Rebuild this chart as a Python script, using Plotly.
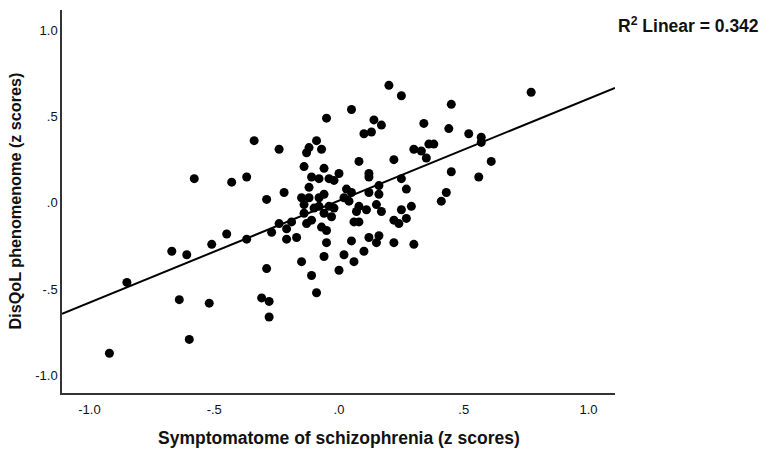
import plotly.graph_objects as go

# Scatter data (z scores)
symptomatome = [-0.92, -0.85, -0.67, -0.64, -0.61, -0.60, -0.58, -0.52, -0.51, -0.45,
                -0.43, -0.37, -0.37, -0.34, -0.31, -0.29, -0.29, -0.28, -0.28, -0.27,
                -0.24, -0.24, -0.22, -0.21, -0.21, -0.19, -0.17, -0.15, -0.15, -0.12,
                -0.14, -0.14, -0.14, -0.13, -0.12, -0.12, -0.11, -0.11, -0.10, -0.11,
                -0.13, -0.09, -0.09, -0.08, -0.08, -0.08, -0.07, -0.06, -0.07, -0.06,
                -0.06, -0.05, -0.05, -0.05, -0.04, -0.04, -0.06, -0.03, -0.02, 0.00,
                -0.02, 0.00, 0.02, 0.03, 0.05, 0.04, 0.05, 0.02, 0.06, 0.05,
                0.06, 0.08, 0.07, 0.08, 0.08, 0.10, 0.10, 0.11, 0.12, 0.12,
                0.12, 0.12, 0.13, 0.14, 0.15, 0.16, 0.15, 0.16, 0.16, 0.17,
                0.17, 0.20, 0.22, 0.22, 0.22, 0.24, 0.25, 0.25, 0.25, 0.27,
                0.27, 0.29, 0.30, 0.30, 0.33, 0.34, 0.35, 0.36, 0.38, 0.41,
                0.43, 0.44, 0.45, 0.45, 0.52, 0.56, 0.57, 0.57, 0.61, 0.77]
phenomenome = [-0.87, -0.46, -0.28, -0.56, -0.30, -0.79, 0.14, -0.58, -0.24, -0.18,
               0.12, 0.15, -0.21, 0.36, -0.55, 0.02, -0.38, -0.57, -0.66, -0.17,
               0.31, -0.12, 0.06, -0.15, -0.21, -0.11, -0.20, -0.34, 0.03, 0.03,
               -0.01, -0.06, 0.21, 0.29, 0.32, 0.09, -0.42, 0.15, -0.03, -0.10,
               -0.12, 0.36, -0.52, 0.03, 0.14, -0.02, 0.31, 0.05, -0.14, 0.20,
               -0.31, 0.49, -0.23, -0.16, 0.14, -0.02, -0.06, -0.08, 0.13, 0.17,
               -0.03, -0.39, 0.03, 0.08, 0.06, 0.01, 0.54, -0.30, -0.34, -0.22,
               -0.11, -0.11, -0.05, -0.02, 0.24, -0.28, 0.40, -0.04, 0.17, 0.15,
               0.06, -0.20, 0.41, 0.48, -0.23, 0.10, -0.01, 0.05, -0.19, 0.45,
               -0.05, 0.68, -0.10, 0.25, -0.23, -0.12, 0.14, -0.04, 0.62, 0.08,
               -0.09, -0.02, 0.31, -0.24, 0.30, 0.46, 0.26, 0.34, 0.34, 0.01,
               0.06, 0.43, 0.57, 0.18, 0.40, 0.15, 0.38, 0.35, 0.24, 0.64]

# Linear fit (as shown in reference)
fit_slope = 0.590
fit_intercept = 0.013
r_squared = 0.342

tick_vals = [-1.0, -0.5, 0.0, 0.5, 1.0]
tick_text = ["-1.0", "-.5", ".0", ".5", "1.0"]

x_title = "Symptomatome of schizophrenia (z scores)"
y_title = "DisQoL phenomenome (z scores)"

x_range = [-1.11, 1.106]
y_range = [-1.10, 1.116]

font_family = "Liberation Sans, Arial, sans-serif"
text_color = "#111111"

fig = go.Figure()
fig.add_trace(go.Scatter(
    x=symptomatome, y=phenomenome, mode="markers",
    marker=dict(color="black", size=9, line=dict(width=0)),
    showlegend=False, hoverinfo="skip"))
fig.add_trace(go.Scatter(
    x=x_range, y=[fit_intercept + fit_slope * v for v in x_range],
    mode="lines", line=dict(color="black", width=2),
    showlegend=False, hoverinfo="skip"))

axis_common = dict(
    showgrid=False, zeroline=False, showline=True, linecolor="#333333",
    linewidth=1.5, ticks="", tickvals=tick_vals, ticktext=tick_text,
    automargin=False,
    tickfont=dict(family=font_family, size=13, color=text_color),
)

fig.update_layout(
    width=763, height=454,
    margin=dict(l=62, r=148, t=10, b=61),
    plot_bgcolor="white", paper_bgcolor="white",
    xaxis=dict(range=x_range, ticklabelstandoff=4, **axis_common),
    yaxis=dict(range=y_range, **axis_common),
    annotations=[
        dict(text=f"<b>R<sup>2</sup> Linear = {r_squared:.3f}</b>",
             xref="paper", yref="paper", x=1.0, y=1.0, xanchor="left",
             yanchor="middle", xshift=1, yshift=-15, showarrow=False,
             font=dict(family=font_family, size=17.5, color=text_color)),
        dict(text=f"<b>{x_title}</b>",
             xref="paper", yref="paper", x=0.5, y=0.0, xanchor="center",
             yanchor="middle", yshift=-45, showarrow=False,
             font=dict(family=font_family, size=17.5, color=text_color)),
        dict(text=f"<b>{y_title}</b>", textangle=-90,
             xref="paper", yref="paper", x=0.0, y=0.5, xanchor="center",
             yanchor="middle", xshift=-48, showarrow=False,
             font=dict(family=font_family, size=16.2, color=text_color)),
    ],
)

fig.write_html("out.html",
               config={"displayModeBar": False},
               post_script="document.body.style.margin='0';document.body.style.padding='0';")
